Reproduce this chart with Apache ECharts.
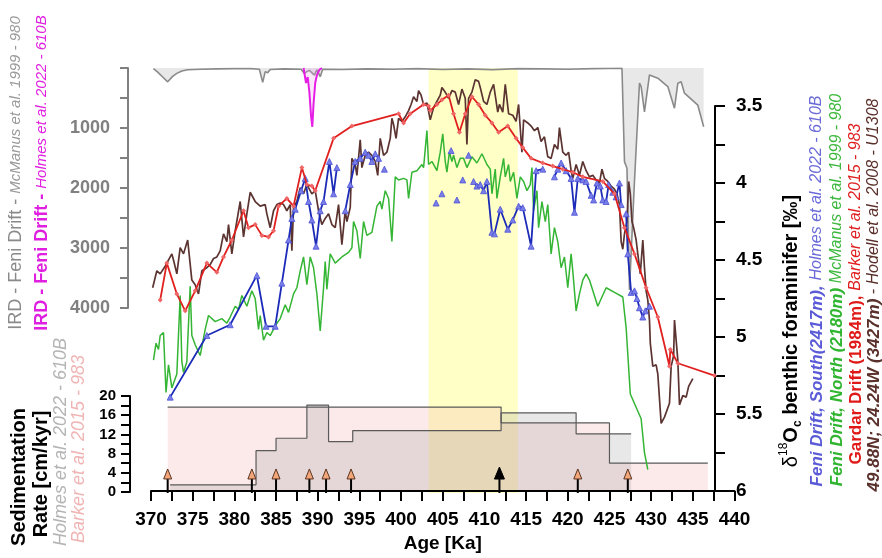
<!DOCTYPE html>
<html>
<head>
<meta charset="utf-8">
<script src="https://cdn.jsdelivr.net/npm/echarts@6/dist/echarts.min.js"></script>
<style>
html, body { margin: 0; padding: 0; background: #fff; }
#chart { width: 882px; height: 558px; }
</style>
</head>
<body>
<div id="chart"></div>
<script>
// ---- data ----
// age [ka], d18O benthic [permil]
const u1308 = [[370.2,4.68],[370.7,4.57],[371.1,4.59],[371.7,4.54],[372.5,4.46],[372.7,4.50],[373.1,4.59],[373.5,4.42],[373.9,4.46],[374.4,4.37],[374.9,4.63],[375.3,4.66],[375.7,4.72],[376.1,4.57],[376.7,4.55],[377.1,4.53],[377.5,4.49],[377.9,4.48],[378.3,4.44],[378.7,4.33],[379.1,4.38],[379.3,4.27],[379.7,4.46],[380.1,4.31],[380.7,4.12],[381.1,4.35],[381.5,4.20],[381.9,4.06],[382.5,4.12],[383.1,4.15],[383.7,4.14],[383.9,4.20],[384.3,4.29],[384.7,4.18],[385.1,4.14],[385.5,4.13],[385.9,4.14],[386.3,4.18],[386.7,4.14],[386.9,4.44],[387.1,4.16],[387.5,4.12],[387.9,4.03],[388.3,4.07],[388.7,4.01],[389.3,4.07],[389.7,4.05],[390.1,4.18],[390.5,4.27],[390.9,4.23],[391.3,4.20],[391.7,4.27],[392.1,4.29],[392.5,4.14],[392.9,4.40],[393.3,4.18],[393.5,4.25],[393.9,4.16],[394.1,3.84],[394.5,3.88],[394.7,3.95],[395.1,3.72],[395.3,3.90],[395.7,3.82],[396.1,3.80],[396.5,3.82],[396.9,3.86],[397.2,3.95],[397.5,3.71],[397.9,3.82],[398.3,3.80],[398.7,3.71],[398.9,3.58],[399.1,3.62],[399.4,3.71],[399.7,3.58],[400.1,3.60],[400.5,3.57],[400.9,3.53],[401.2,3.49],[401.5,3.44],[401.9,3.47],[402.1,3.40],[402.4,3.43],[402.7,3.49],[403.1,3.48],[403.5,3.59],[403.9,3.51],[404.3,3.47],[404.7,3.43],[404.9,3.38],[405.3,3.41],[405.7,3.45],[406.1,3.40],[406.5,3.41],[406.9,3.49],[407.3,3.39],[407.7,3.45],[407.9,3.75],[408.1,3.45],[408.5,3.41],[408.9,3.33],[409.3,3.34],[409.5,3.38],[409.9,3.47],[410.3,3.49],[410.7,3.41],[411.1,3.36],[411.6,3.54],[411.8,3.49],[412.2,3.54],[412.5,3.36],[412.9,3.55],[413.4,3.56],[413.8,3.60],[414.1,3.49],[414.5,3.80],[414.7,3.59],[415.2,3.61],[415.6,3.63],[416.0,3.66],[416.4,3.64],[416.8,3.73],[417.2,3.70],[417.6,3.83],[418.0,3.84],[418.4,3.75],[418.8,3.78],[419.0,3.64],[419.4,3.80],[419.8,3.82],[420.1,3.80],[420.4,3.92],[420.6,3.97],[421.0,3.88],[421.4,3.95],[421.8,3.86],[422.2,3.92],[422.6,3.96],[423.0,3.95],[423.4,3.98],[423.8,4.00],[424.1,3.91],[424.4,3.97],[424.8,3.99],[425.2,4.02],[425.6,4.04],[425.9,4.07],[426.2,4.14],[426.4,4.38],[426.6,4.43],[426.8,4.33],[427.1,4.25],[427.3,3.99],[427.5,4.07],[427.7,4.25],[427.9,4.29],[428.2,4.37],[428.4,4.46],[428.7,4.59],[429.0,4.37],[429.2,4.55],[429.4,4.70],[429.6,4.76],[429.8,4.89],[429.9,5.04],[430.0,5.09],[430.2,5.19],[430.6,5.18],[430.8,5.24],[431.2,5.56],[431.6,5.52],[432.2,5.43],[432.4,5.19],[432.7,5.12],[432.8,4.89],[433.2,5.15],[433.4,5.44],[433.8,5.38],[434.2,5.39],[434.5,5.32],[435.0,5.27]];

const gardar983 = [[371.1,4.76],[371.9,4.52],[373.1,4.72],[374.1,4.83],[375.3,4.70],[376.7,4.52],[377.9,4.58],[378.7,4.48],[379.7,4.37],[381.1,4.18],[381.7,4.29],[382.5,4.27],[383.3,4.34],[384.1,4.35],[384.7,4.31],[385.3,4.15],[386.3,4.10],[387.1,4.15],[388.1,3.90],[388.7,4.01],[389.3,4.02],[389.7,4.05],[391.9,3.71],[394.1,3.63],[399.7,3.55],[400.3,3.61],[401.1,3.55],[402.7,3.49],[403.3,3.50],[403.5,3.53],[404.3,3.49],[404.9,3.46],[405.7,3.43],[406.3,3.55],[407.0,3.67],[407.7,3.55],[408.5,3.44],[409.3,3.49],[410.1,3.56],[410.9,3.61],[411.7,3.67],[412.8,3.63],[413.8,3.71],[414.6,3.77],[415.6,3.84],[417.0,3.87],[418.2,3.89],[419.4,3.91],[420.6,3.93],[421.8,3.96],[424.2,3.99],[425.6,4.07],[426.8,4.29],[428.0,4.46],[429.4,4.68],[430.8,4.87],[432.2,5.19],[432.3,5.08],[433.2,5.17],[437.6,5.25]];

const feniNorth980 = [[370.3,5.15],[370.6,5.04],[370.9,5.08],[371.1,4.99],[371.5,4.97],[371.8,5.36],[372.1,5.18],[372.5,5.33],[373.1,5.24],[373.5,4.73],[373.7,5.16],[373.9,5.23],[374.3,5.16],[374.7,4.67],[374.9,4.99],[375.3,5.05],[375.9,5.12],[376.5,4.95],[376.9,4.86],[377.7,4.90],[378.5,4.88],[379.1,4.91],[379.5,4.87],[380.1,4.80],[380.5,4.82],[380.9,4.73],[381.5,4.80],[382.1,4.70],[382.5,4.75],[382.9,4.95],[383.1,4.86],[383.5,5.02],[383.9,4.97],[384.3,4.99],[384.7,4.95],[385.1,4.91],[385.5,4.88],[386.1,4.79],[386.5,4.84],[386.7,4.85],[387.1,4.72],[387.5,4.68],[387.9,4.57],[388.3,4.48],[388.7,4.66],[389.1,4.48],[389.5,4.55],[389.9,4.72],[390.3,4.96],[390.7,4.68],[390.9,4.51],[391.1,4.69],[391.5,4.46],[392.1,4.52],[392.9,4.48],[393.7,4.45],[394.1,4.42],[394.3,4.25],[394.7,4.31],[395.1,4.49],[395.5,4.25],[395.9,4.34],[396.5,4.32],[397.1,4.15],[397.5,4.12],[397.7,4.17],[398.1,4.05],[398.5,4.10],[398.9,4.38],[399.3,3.96],[399.7,3.98],[400.3,3.97],[400.7,3.98],[400.9,4.10],[401.3,3.93],[401.9,3.92],[402.5,3.88],[402.7,3.90],[403.1,3.66],[403.3,3.88],[403.7,3.86],[404.3,3.92],[404.7,3.80],[405.0,3.68],[405.3,3.86],[405.5,3.93],[405.8,3.80],[406.1,3.86],[406.3,3.82],[406.7,3.90],[407.1,3.84],[407.5,3.84],[407.9,3.90],[408.5,3.83],[409.1,3.87],[409.7,3.81],[410.3,3.88],[410.7,3.91],[410.9,4.07],[411.3,3.91],[411.5,4.10],[411.9,3.96],[412.3,3.84],[412.5,3.96],[412.9,3.88],[413.1,3.99],[413.5,3.93],[413.9,4.10],[414.3,3.96],[414.7,3.99],[415.1,4.05],[415.5,4.01],[415.7,3.90],[415.9,4.18],[416.3,4.05],[416.5,4.29],[416.9,4.12],[417.3,4.25],[417.6,4.14],[418.0,4.46],[418.4,4.29],[418.8,4.38],[419.2,4.55],[419.6,4.48],[420.0,4.68],[420.4,4.46],[420.6,4.57],[421.0,4.83],[421.4,4.72],[421.8,4.63],[422.2,4.59],[422.6,4.63],[423.6,4.80],[424.6,4.68],[425.6,4.71],[426.6,4.74],[427.0,4.94],[427.5,5.37],[428.8,5.53],[429.2,5.75],[429.6,5.86]];

// Feni South 610B, line pieces (gaps between them) and lone samples
const feniSouth610B = [
  [[372.3,5.39],[376.7,4.99],[379.5,4.92],[382.7,4.60],[383.8,4.93],[384.9,4.93],[385.7,4.65],[386.5,4.37],[386.9,4.23],[387.3,4.17],[388.0,4.05],[388.5,3.97],[388.9,4.12],[389.3,4.24],[389.8,4.41],[390.3,4.18],[390.7,4.12],[391.4,3.86],[391.9,4.07],[392.3,3.90]],
  [[393.3,4.18],[393.9,4.01],[394.5,3.86],[395.1,3.84],[395.7,3.80],[396.1,3.82],[396.5,3.86],[396.9,3.81],[397.3,3.84]],
  [[408.7,3.99],[409.1,4.02],[409.5,4.01],[409.9,4.05],[410.3,3.99],[410.9,4.32],[411.2,4.33],[411.9,4.17],[412.8,4.30],[413.4,4.24],[414.1,4.15],[414.6,4.16],[415.6,4.41],[416.2,3.92],[417.0,3.91]],
  [[418.4,3.96],[418.8,3.91],[419.2,3.87],[419.8,3.92],[420.4,3.97],[420.8,4.19],[421.2,3.97],[421.8,3.98],[422.2,3.99],[422.8,4.08],[423.1,4.11],[423.5,4.00],[423.9,4.02],[424.2,4.11],[424.6,4.12],[424.9,4.01],[425.4,4.06],[425.8,4.09],[426.2,4.00],[426.4,4.14]],
  [[427.0,4.20],[427.2,4.46],[427.6,4.71],[428.0,4.70],[428.3,4.75],[428.6,4.81],[429.0,4.87],[429.3,4.83],[429.8,4.80]]
];
const feniSouthLone = [[398.0,3.91],[404.2,4.13],[404.9,4.07],[406.0,3.79],[406.7,4.11],[407.4,3.98],[408.1,3.82]];

// IRD counts (inverted axis)
const irdMcManus = [[370.3,10],[370.8,70],[371.4,150],[372.0,230],[372.6,140],[373.1,90],[373.7,50],[374.4,30],[376.0,20],[378.0,15],[380.0,10],[382.0,10],[383.0,20],[383.4,240],[383.7,60],[384.0,80],[384.3,25],[386.0,15],[388.0,20],[388.4,90],[388.7,60],[389.0,40],[389.6,120],[389.9,30],[390.3,145],[390.6,20],[393.0,25],[396.0,15],[399.0,20],[402.0,10],[405.0,25],[408.0,15],[411.0,30],[414.0,10],[417.0,15],[420.0,20],[423.0,10],[426.5,5],[426.8,1560],[427.1,1670],[427.4,3700],[428.0,1890],[428.6,250],[428.8,310],[429.2,730],[429.8,115],[430.8,170],[432.0,310],[432.8,670],[433.2,255],[433.6,230],[434.0,420],[435.6,620],[436.3,980]];
const irdHolmes = [[388.3,0],[388.6,250],[388.8,150],[389.0,400],[389.2,800],[389.35,980],[389.5,600],[389.7,250],[389.9,120],[390.2,30],[390.5,0]];

// sedimentation rate [cm/kyr], value holds until next age
const sedHolmes610B = [[372.3,1.5],[382.6,8.6],[385.0,11.2],[388.7,18.1],[391.3,10.5],[394.2,12.8],[412.0,16.5],[421.0,12.1],[427.6,12.1]];
const sedBarker983 = [[372.0,17.7],[412.0,14.4],[425.0,6.0],[436.8,6.0]];

// age tie points (1 = black arrow)
const tiePoints = [[372.0,0],[382.1,0],[385.0,0],[389.0,0],[391.0,0],[394.0,0],[411.8,1],[421.2,0],[427.2,0]];

// yellow interval
const warmBand = [[403.3, 414.0]];

const FONT = 'Liberation Sans, Arial, sans-serif';
const L = 151, R = 147.5;

let chart = echarts.init(document.getElementById('chart'));

let hiddenX = function (gi) {
  return { gridIndex: gi, type: 'value', min: 370, max: 440, show: false };
};

let series = [];

// yellow band
series.push({
  type: 'custom', xAxisIndex: 3, yAxisIndex: 3, z: 0, silent: true,
  data: warmBand,
  renderItem: function (params, api) {
    let p0 = api.coord([api.value(0), 1]);
    let p1 = api.coord([api.value(1), 0]);
    return { type: 'rect', shape: { x: p0[0], y: p0[1], width: p1[0] - p0[0], height: p1[1] - p0[1] }, style: { fill: '#ffffc6' } };
  }
});

// sedimentation rate steps
series.push({
  type: 'line', xAxisIndex: 2, yAxisIndex: 2, step: 'end', data: sedBarker983,
  showSymbol: false, z: 1, lineStyle: { color: '#5a5a5a', width: 1.2 },
  areaStyle: { color: 'rgba(244,176,176,0.38)' }
});
series.push({
  type: 'line', xAxisIndex: 2, yAxisIndex: 2, step: 'end', data: sedHolmes610B,
  showSymbol: false, z: 1, lineStyle: { color: '#5a5a5a', width: 1.2 },
  areaStyle: { color: 'rgba(150,150,150,0.32)' }
});

// tie point arrows
series.push({
  type: 'custom', xAxisIndex: 2, yAxisIndex: 2, z: 4, silent: true,
  data: tiePoints,
  renderItem: function (params, api) {
    let black = api.value(1) === 1;
    let base = api.coord([api.value(0), 0]);
    let tip = api.coord([api.value(0), black ? 5.2 : 4.8]);
    let h = black ? 12 : 10, w = black ? 10 : 8;
    return {
      type: 'group', children: [
        { type: 'line', shape: { x1: base[0], y1: base[1] + 1, x2: base[0], y2: tip[1] + h - 1 }, style: { stroke: '#000', lineWidth: 2 } },
        { type: 'polygon', shape: { points: [[tip[0], tip[1]], [tip[0] - w / 2, tip[1] + h], [tip[0] + w / 2, tip[1] + h]] },
          style: { fill: black ? '#000' : '#f2a679', stroke: black ? '#000' : '#5a3420', lineWidth: 1 } }
      ]
    };
  }
});

// IRD
series.push({
  type: 'line', xAxisIndex: 1, yAxisIndex: 1, data: irdMcManus, showSymbol: false, z: 2,
  lineStyle: { color: '#8a8a8a', width: 1.6 }, areaStyle: { color: 'rgba(200,200,200,0.6)' }
});
series.push({
  type: 'line', xAxisIndex: 1, yAxisIndex: 1, data: irdHolmes, showSymbol: false, z: 3,
  lineStyle: { color: '#e61fe6', width: 2 }, areaStyle: { color: 'rgba(235,160,235,0.35)' }
});

// d18O curves
series.push({
  type: 'line', data: feniNorth980, showSymbol: false, clip: false, z: 3,
  lineStyle: { color: '#34b534', width: 1.5 }
});
series.push({
  type: 'line', data: u1308, showSymbol: false, clip: false, z: 4,
  lineStyle: { color: '#5b3431', width: 1.7 }
});
feniSouth610B.forEach(function (seg) {
  series.push({
    type: 'line', data: seg, symbol: 'triangle', symbolSize: 6, showSymbol: true, clip: false, z: 5,
    lineStyle: { color: '#1c2ab8', width: 1.8 }, itemStyle: { color: '#7a7ee8', borderColor: '#4b52d4', borderWidth: 0.8 }
  });
});
series.push({
  type: 'scatter', data: feniSouthLone, symbol: 'triangle', symbolSize: 6, clip: false, z: 5,
  itemStyle: { color: '#7a7ee8', borderColor: '#4b52d4', borderWidth: 0.8, opacity: 1 }
});
series.push({
  type: 'line', data: gardar983, symbol: 'diamond', symbolSize: 5, showSymbol: true, clip: false, z: 6,
  lineStyle: { color: '#e0201f', width: 1.8 }, itemStyle: { color: '#f06565' }
});

let vtext = function (x, y, text, rich, extra) {
  return Object.assign({
    type: 'text', x: x, y: y, rotation: Math.PI / 2, silent: true,
    style: { text: text, rich: rich, align: 'center', verticalAlign: 'middle', fontFamily: FONT }
  }, extra || {});
};
let rs = function (size, color, weight, style) {
  return { fontSize: size, fill: color, color: color, fontWeight: weight || 'normal', fontStyle: style || 'normal', fontFamily: FONT };
};

let graphic = [
  vtext(16, 173, '{a|IRD - Feni Drift - }{b|McManus et al. 1999 - 980}', { a: rs(18, '#8a8a8a'), b: rs(15, '#9a9a9a', 'normal', 'italic') }),
  vtext(42, 173, '{a|IRD - Feni Drift - }{b|Holmes et al. 2022 - 610B}', { a: rs(18, '#e020e0', 'bold'), b: rs(15, '#e020e0', 'normal', 'italic') }),
  vtext(19, 477, '{a|Sedimentation}', { a: rs(20, '#000', 'bold') }),
  vtext(41, 474, '{a|Rate [cm/kyr]}', { a: rs(20, '#000', 'bold') }),
  vtext(61, 442, '{a|Holmes et al. 2022 - 610B}', { a: rs(18, '#b4b4b4', 'normal', 'italic') }),
  vtext(79, 449, '{a|Barker et al. 2015 - 983}', { a: rs(18, '#f0b4b4', 'normal', 'italic') }),
  vtext(791, 331, '{d|\u03b4}{sup|18}{a|O}{sub|c}{a| benthic foraminifer [\u2030]}', {
    d: rs(20, '#000'), a: rs(20, '#000', 'bold'),
    sup: Object.assign(rs(12, '#000'), { verticalAlign: 'top', lineHeight: 26 }),
    sub: Object.assign(rs(12, '#000', 'bold'), { verticalAlign: 'bottom', lineHeight: 26 })
  }),
  vtext(817, 291, '{a|Feni Drift, South(2417m), }{b|Holmes et al. 2022 - 610B}', { a: rs(17, '#5b5bd8', 'bold', 'italic'), b: rs(16, '#6a6ad8', 'normal', 'italic') }),
  vtext(837, 290, '{a|Feni Drift, North (2180m) }{b|McManus et al. 1999 - 980}', { a: rs(17, '#2fb52f', 'bold', 'italic'), b: rs(16, '#3cb83c', 'normal', 'italic') }),
  vtext(856, 294, '{a|Gardar Drift (1984m), }{b|Barker et al. 2015 - 983}', { a: rs(17, '#e01818', 'bold'), b: rs(16, '#e02020', 'normal', 'italic') }),
  vtext(874, 295, '{a|49.88N; 24.24W (3427m)}{b| - Hodell et al. 2008 - U1308}', { a: rs(17, '#5a302b', 'bold', 'italic'), b: rs(16, '#5a302b', 'normal', 'italic') })
];

let option = {
  animation: false,
  backgroundColor: '#fff',
  textStyle: { fontFamily: FONT },
  grid: [
    { left: L, right: R, top: 106, bottom: 65 },
    { left: L, right: R, top: 68, height: 240 },
    { left: L, right: R, top: 396, bottom: 66 },
    { left: L, right: R, top: 68, bottom: 65 }
  ],
  xAxis: [
    {
      gridIndex: 0, type: 'value', min: 370, max: 440, interval: 2.5, z: 10,
      axisLine: { onZero: false, lineStyle: { color: '#000', width: 2 } },
      axisTick: { length: 10, lineStyle: { color: '#000', width: 2 } },
      splitLine: { show: false },
      axisLabel: {
        margin: 19, fontSize: 19, fontWeight: 'bold', color: '#000', fontFamily: FONT,
        formatter: function (v) { return v % 5 === 0 ? String(v) : ''; }
      },
      name: 'Age [Ka]', nameLocation: 'middle', nameGap: 42,
      nameTextStyle: { fontSize: 19, fontWeight: 'bold', color: '#000', fontFamily: FONT }
    },
    hiddenX(1), hiddenX(2), hiddenX(3)
  ],
  yAxis: [
    {
      gridIndex: 0, type: 'value', position: 'right', offset: -19.5, inverse: true,
      min: 3.5, max: 6, interval: 0.25,
      axisLine: { show: true, lineStyle: { color: '#000', width: 2 } },
      axisTick: { show: true, length: 10, lineStyle: { color: '#000', width: 2 } },
      splitLine: { show: false },
      axisLabel: {
        margin: 21, fontSize: 19, fontWeight: 'bold', color: '#000', fontFamily: FONT,
        formatter: function (v) { return Math.abs(v * 2 - Math.round(v * 2)) < 1e-6 ? String(v) : ''; }
      }
    },
    {
      gridIndex: 1, type: 'value', position: 'left', offset: 23, inverse: true,
      min: 0, max: 4000, interval: 500,
      axisLine: { show: true, lineStyle: { color: '#808080', width: 2 } },
      axisTick: { show: true, length: 8, lineStyle: { color: '#808080', width: 2 } },
      splitLine: { show: false },
      axisLabel: {
        margin: 18, fontSize: 18, fontWeight: 'bold', color: '#808080', fontFamily: FONT,
        formatter: function (v) { return v > 0 && v % 1000 === 0 ? String(v) : ''; }
      }
    },
    {
      gridIndex: 2, type: 'value', position: 'left', offset: 21,
      min: 0, max: 20, interval: 2,
      axisLine: { show: true, onZero: false, lineStyle: { color: '#000', width: 2 } },
      axisTick: { show: true, length: 9, lineStyle: { color: '#000', width: 2 } },
      splitLine: { show: false },
      axisLabel: {
        margin: 14, fontSize: 15, fontWeight: 'bold', color: '#000', fontFamily: FONT,
        formatter: function (v) { return v % 4 === 0 ? String(v) : ''; }
      }
    },
    { gridIndex: 3, type: 'value', min: 0, max: 1, show: false }
  ],
  graphic: graphic,
  series: series
};

chart.setOption(option);
</script>
</body>
</html>
